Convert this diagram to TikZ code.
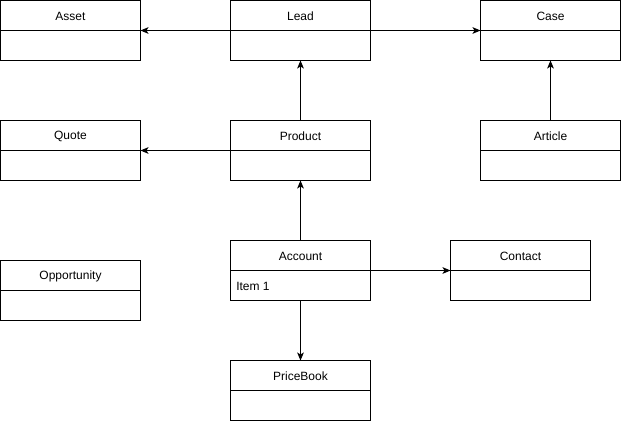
\documentclass[tikz,border=0pt]{standalone}
\usepackage{fontspec}
\setmainfont{Liberation Sans}
\usetikzlibrary{arrows.meta}
\begin{document}
\begin{tikzpicture}[x=0.75pt,y=-0.75pt,
  box/.style={draw,line width=0.75pt,minimum width=105pt,minimum height=45pt,inner sep=0pt,outer sep=0pt},
  ttl/.style={font=\fontsize{9pt}{10pt}\selectfont,inner sep=0pt},
  conn/.style={line width=0.75pt,-{Stealth[length=6pt,width=5pt,inset=1.5pt]}}]
\useasboundingbox (0,0) rectangle (621,421);
\newcommand{\umlbox}[4]{%
  \node[box] (#1) at (#2,#3) {};
  \draw[line width=0.75pt] (#1.west) -- (#1.east);
  \node[ttl] (#1-t) at ([yshift=10.6pt]#1.center) {#4};
}
\umlbox{asset}{70.5}{30.5}{Asset}
\umlbox{lead}{300.5}{30.5}{Lead}
\umlbox{case}{550.5}{30.5}{Case}
\umlbox{quote}{70.5}{150.5}{Quote}
\umlbox{product}{300.5}{150.5}{Product}
\umlbox{article}{550.5}{150.5}{Article}
\umlbox{opp}{70.5}{290.5}{Opportunity}
\umlbox{account}{300.5}{270.5}{Account}
\umlbox{contact}{520.5}{270.5}{Contact}
\umlbox{pricebook}{300.5}{390.5}{PriceBook}
\node[ttl,anchor=west] (item) at (236,286.5) {Item 1};
\draw[conn] (lead.west) -- (asset.east);
\draw[conn] (lead.east) -- (case.west);
\draw[conn] (product.north) -- (lead.south);
\draw[conn] (product.west) -- (quote.east);
\draw[conn] (article.north) -- (case.south);
\draw[conn] (account.north) -- (product.south);
\draw[conn] (account.east) -- (contact.west);
\draw[conn] (account.south) -- (pricebook.north);
\end{tikzpicture}
\end{document}
